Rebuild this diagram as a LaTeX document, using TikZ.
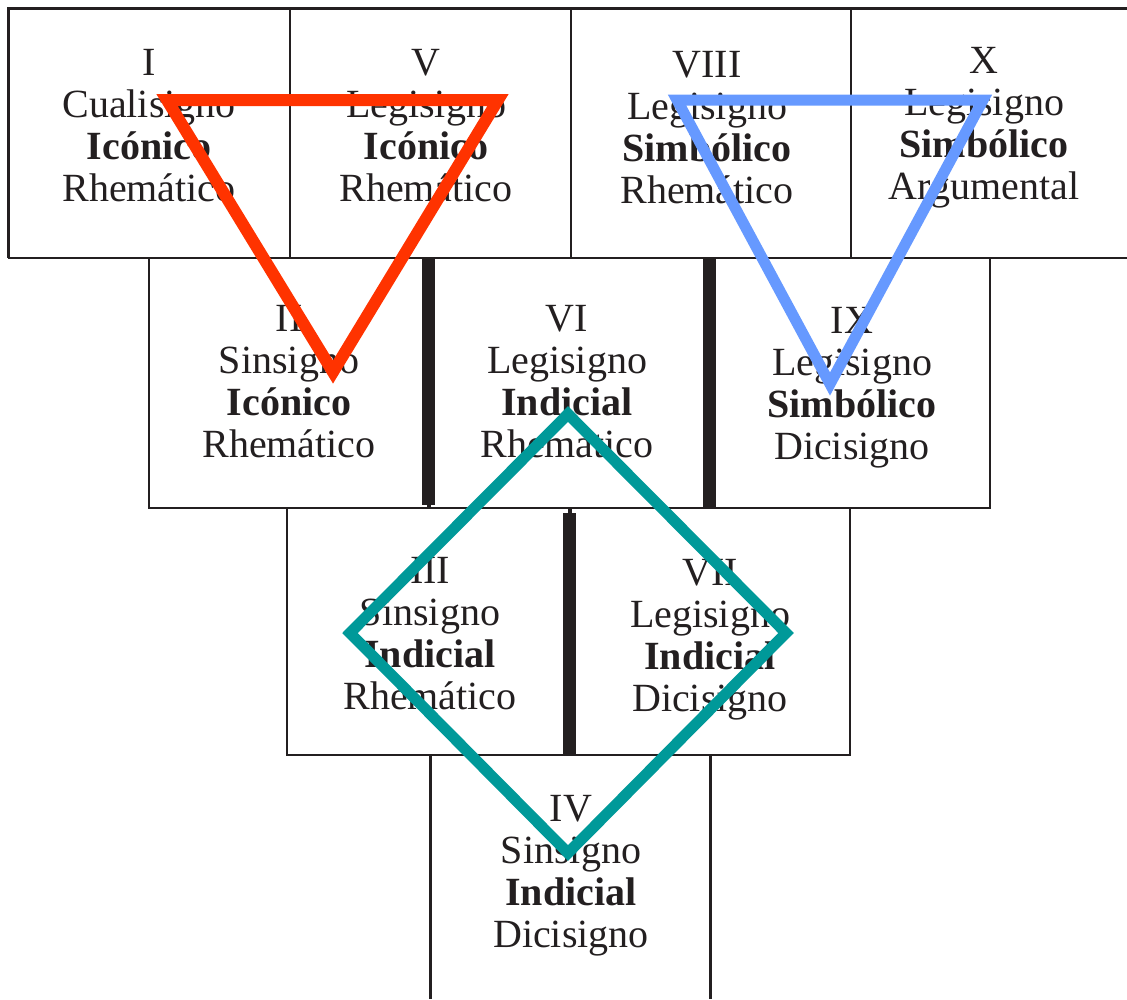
\documentclass[tikz,border=0pt]{standalone}
\usepackage{fontspec}
\setmainfont{Liberation Serif}
\definecolor{ink}{HTML}{231F20}
\definecolor{rojo}{HTML}{FF3300}
\definecolor{azul}{HTML}{6699FF}
\definecolor{verde}{HTML}{009999}

\tikzstyle{line} = [draw=ink, line width=1.6pt]
\tikzstyle{frame} = [draw=ink, line width=3pt]
\tikzstyle{bar} = [draw=ink, line width=13pt]
\tikzstyle{stub} = [draw=ink, line width=4pt]
\tikzstyle{sign} = [anchor=north, inner sep=0pt, align=center, text=ink,
  font=\fontsize{40}{42}\selectfont]
\tikzstyle{tri} = [line width=12pt, miter limit=20, line join=miter]

\begin{document}
\begin{tikzpicture}[x=1pt,y=-1pt]
\useasboundingbox (0,0) rectangle (1127,999);

% top row
\draw [frame] (1127,8.5) -- (8.5,8.5) -- (8.5,258);
\draw [line] (8,258) -- (1127,258);
\draw [line] (290,9) -- (290,258);
\draw [line] (571,9) -- (571,258);
\draw [line] (851,9) -- (851,258);

% second row
\draw [line] (149,258) rectangle (990,508);
\draw [bar] (428.5,258) -- (428.5,505);
\draw [stub] (428.5,504) -- (428.5,508);
\draw [bar] (709,258) -- (709,508);

% third row
\draw [line] (287,508) rectangle (850,755);
\draw [stub] (569.5,508) -- (569.5,514);
\draw [bar] (569.5,513) -- (569.5,755);

% fourth row
\draw [frame] (430,755) -- (430,999);
\draw [frame] (710,755) -- (710,999);

% signs
\node [sign] (sI)    at (149,49)  {I\\Cualisigno\\\textbf{Icónico}\\Rhemático};
\node [sign] (sV)    at (426,49)  {V\\Legisigno\\\textbf{Icónico}\\Rhemático};
\node [sign] (sVIII) at (707,51)  {VIII\\Legisigno\\\textbf{Simbólico}\\Rhemático};
\node [sign] (sX)    at (984,47)  {X\\Legisigno\\\textbf{Simbólico}\\Argumental};
\node [sign] (sII)   at (289,305) {II\\Sinsigno\\\textbf{Icónico}\\Rhemático};
\node [sign] (sVI)   at (567,305) {VI\\Legisigno\\\textbf{Indicial}\\Rhemático};
\node [sign] (sIX)   at (852,307) {IX\\Legisigno\\\textbf{Simbólico}\\Dicisigno};
\node [sign] (sIII)  at (430,557) {III\\Sinsigno\\\textbf{Indicial}\\Rhemático};
\node [sign] (sVII)  at (710,559) {VII\\Legisigno\\\textbf{Indicial}\\Dicisigno};
\node [sign] (sIV)   at (571,795) {IV\\Sinsigno\\\textbf{Indicial}\\Dicisigno};

% triangles and diamond
\coordinate (r1) at (167,100);
\coordinate (r2) at (498,100);
\coordinate (r3) at (333,372);
\draw [tri, rojo] (r1) -- (r2) -- (r3) -- cycle;

\coordinate (a1) at (677,100);
\coordinate (a2) at (983,100);
\coordinate (a3) at (830,384);
\draw [tri, azul, line width=11pt] (a1) -- (a2) -- (a3) -- cycle;

\coordinate (v1) at (568,414);
\coordinate (v2) at (786,633);
\coordinate (v3) at (568,853);
\coordinate (v4) at (350,633);
\draw [tri, verde, line width=11pt] (v1) -- (v2) -- (v3) -- (v4) -- cycle;

\end{tikzpicture}
\end{document}
